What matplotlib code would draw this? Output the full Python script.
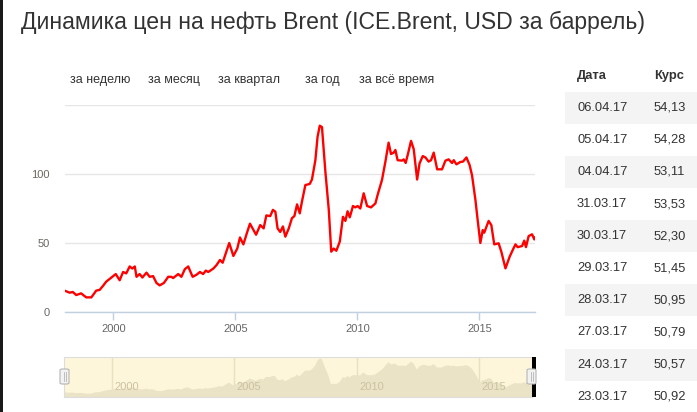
import matplotlib
matplotlib.use("Agg")
import matplotlib.pyplot as plt
from matplotlib.patches import Rectangle, FancyBboxPatch

# Brent price (decimal year, USD)
years = [1998.00, 1998.21, 1998.34, 1998.48, 1998.68, 1998.89, 1999.10, 1999.30, 1999.44, 1999.58,
         1999.71, 1999.92, 2000.10, 2000.26, 2000.40, 2000.53, 2000.67, 2000.78, 2000.88, 2000.95,
         2001.08, 2001.19, 2001.36, 2001.49, 2001.63, 2001.77, 2001.90, 2002.07, 2002.25, 2002.38,
         2002.45, 2002.66, 2002.79, 2002.93, 2003.07, 2003.25, 2003.41, 2003.55, 2003.68, 2003.79,
         2003.89, 2004.10, 2004.23, 2004.37, 2004.48, 2004.62, 2004.75, 2004.92, 2005.08, 2005.19,
         2005.33, 2005.47, 2005.60, 2005.85, 2006.02, 2006.16, 2006.27, 2006.43, 2006.54, 2006.64,
         2006.73, 2006.84, 2006.95, 2007.05, 2007.19, 2007.32, 2007.42, 2007.53, 2007.64, 2007.73,
         2007.87, 2008.05, 2008.14, 2008.28, 2008.37, 2008.46, 2008.55, 2008.69, 2008.83, 2008.93,
         2009.03, 2009.14, 2009.28, 2009.41, 2009.51, 2009.60, 2009.69, 2009.82, 2009.92, 2010.01,
         2010.12, 2010.26, 2010.40, 2010.56, 2010.74, 2010.83, 2011.01, 2011.15, 2011.28, 2011.38,
         2011.49, 2011.56, 2011.65, 2011.83, 2011.90, 2011.98, 2012.08, 2012.20, 2012.31, 2012.45,
         2012.55, 2012.68, 2012.79, 2012.92, 2013.02, 2013.13, 2013.27, 2013.47, 2013.61, 2013.74,
         2013.88, 2013.95, 2014.06, 2014.22, 2014.33, 2014.47, 2014.60, 2014.70, 2014.84, 2014.93,
         2015.04, 2015.14, 2015.20, 2015.38, 2015.49, 2015.61, 2015.79, 2015.90, 2016.07, 2016.24,
         2016.38, 2016.48, 2016.57, 2016.75, 2016.84, 2016.91, 2017.02, 2017.16, 2017.25, 2017.29]
prices = [15.5, 14.0, 14.5, 12.3, 13.5, 10.6, 10.6, 15.5, 16.0, 19.0,
          22.0, 25.0, 27.5, 23.0, 29.0, 28.0, 33.0, 31.5, 33.0, 25.5,
          27.5, 25.0, 28.5, 25.5, 26.0, 21.0, 19.3, 21.0, 25.5, 25.5,
          24.6, 27.5, 25.5, 31.0, 33.0, 25.5, 27.0, 29.0, 27.5, 30.0,
          29.0, 31.5, 34.0, 37.7, 35.7, 43.0, 50.0, 40.6, 46.0, 54.0,
          49.0, 57.0, 64.0, 56.0, 63.0, 60.6, 70.0, 69.5, 74.0, 72.7,
          60.6, 58.0, 62.0, 54.6, 60.6, 68.0, 69.5, 78.0, 71.5, 80.0,
          92.0, 92.8, 96.0, 110.0, 127.0, 135.0, 134.0, 101.7, 74.0, 43.7,
          46.0, 44.4, 51.0, 69.0, 66.0, 73.0, 68.6, 76.8, 75.8, 76.8,
          75.0, 86.0, 76.8, 75.8, 78.7, 84.8, 95.7, 109.0, 122.7, 114.5,
          115.5, 117.4, 110.0, 109.7, 110.6, 108.0, 115.0, 124.0, 118.0, 96.0,
          107.7, 113.0, 112.0, 109.0, 110.0, 115.5, 103.4, 103.4, 109.7, 110.6,
          108.0, 110.0, 107.0, 108.7, 109.0, 112.0, 106.5, 99.0, 81.0, 66.7,
          50.0, 59.4, 57.5, 66.0, 63.0, 49.0, 49.8, 43.7, 31.6, 40.0,
          45.4, 49.0, 47.0, 47.8, 51.7, 47.0, 55.0, 56.3, 52.6, 54.0]

year_ticks = [2000, 2005, 2010, 2015]
y_ticks = [0, 50, 100]

tabs = ["за неделю", "за месяц", "за квартал", "за год", "за всё время"]
tab_x = [70, 148, 218, 305, 359]

table_dates = ["06.04.17", "05.04.17", "04.04.17", "31.03.17", "30.03.17",
               "29.03.17", "28.03.17", "27.03.17", "24.03.17", "23.03.17"]
table_rates = ["54,13", "54,28", "53,11", "53,53", "52,30",
               "51,45", "50,95", "50,79", "50,57", "50,92"]

W, H = 697, 412
SANS = ["Liberation Sans", "DejaVu Sans"]


def box(x0, y0, x1, y1):
    return [x0 / W, 1 - y1 / H, (x1 - x0) / W, (y1 - y0) / H]


def fx(x):
    return x / W


def fy(y):
    return 1 - y / H


fig = plt.figure(figsize=(W / 100, H / 100), dpi=100)
fig.patch.set_facecolor("white")

# dark strip at the left edge
fig.patches.append(Rectangle((0, 0), 3 / W, 1, transform=fig.transFigure,
                             facecolor="#1a1a1a", edgecolor="none"))

# title: no narrow font installed, so size it to the reference width (21..647 px)
title = fig.text(fx(21), fy(22), "Динамика цен на нефть Brent (ICE.Brent, USD за баррель)",
                 fontsize=18.5, family=SANS, color="#333333", va="center", ha="left")
renderer = fig.canvas.get_renderer()
tw = title.get_window_extent(renderer).width
title.set_fontsize(18.5 * 626 / tw)

for t, x in zip(tabs, tab_x):
    fig.text(fx(x), fy(80), t, fontsize=9.0, family=SANS, color="#333333",
             va="center", ha="left")

# main chart
ax = fig.add_axes(box(65, 105, 535, 312))
ax.plot(years, prices, color="#ff0000", lw=1.7, solid_joinstyle="round", zorder=3)
ax.set_xlim(1998.02, 2017.28)
ax.set_ylim(0, 150)
ax.set_yticks(y_ticks + [150])
ax.set_yticklabels([str(v) for v in y_ticks] + [""])
ax.set_xticks(year_ticks)
ax.set_xticklabels([str(v) for v in year_ticks])
for s in ["top", "right", "left"]:
    ax.spines[s].set_visible(False)
ax.spines["bottom"].set_color("#c0d0e0")
ax.spines["bottom"].set_linewidth(1)
ax.grid(axis="y", color="#e6e6e6", lw=1)
ax.set_axisbelow(True)
ax.tick_params(axis="y", length=0, pad=11, labelsize=8, labelcolor="#6b6660")
ax.tick_params(axis="x", length=6, width=1, color="#c0d0e0", direction="out",
               pad=3, labelsize=8, labelcolor="#666666")
for lab in ax.get_xticklabels() + ax.get_yticklabels():
    lab.set_family(SANS)

# navigator
nav = fig.add_axes(box(64, 357, 532, 397))
nav.set_facecolor("#fdf6da")
nav.fill_between(years, prices, -3, color="#ebe3c6", lw=0)
nav.set_xlim(1998.02, 2017.18)
nav.set_ylim(-3, 139)
nav.set_yticks([])
nav.set_xticks(year_ticks)
nav.set_xticklabels([])
nav.grid(axis="x", color="#e9e0c0", lw=1)
nav.set_axisbelow(True)
nav.tick_params(axis="x", length=0)
for s in nav.spines.values():
    s.set_color("#dddddd")
for yr in year_ticks:
    nav.text(yr + 0.1, 0.25, str(yr), transform=nav.get_xaxis_transform(),
             fontsize=8, family=SANS, color="#cbc19f", ha="left", va="center", zorder=5)

fig.patches.append(Rectangle((fx(532), fy(397)), 4 / W, 40 / H, transform=fig.transFigure,
                             facecolor="black", edgecolor="none", zorder=5))
for hx in [60, 527]:
    fig.patches.append(FancyBboxPatch((fx(hx), fy(384)), 9 / W, 15 / H,
                                      boxstyle="round,pad=0,rounding_size=0.003",
                                      transform=fig.transFigure, facecolor="#f2f2f2",
                                      edgecolor="#b5b5b5", lw=0.8, zorder=6))
    for dx in [3.5, 5.5]:
        fig.lines.append(plt.Line2D([fx(hx + dx)] * 2, [fy(372), fy(381)],
                                    transform=fig.transFigure, color="#b5b5b5",
                                    lw=0.6, zorder=7))

# table on the right
fig.text(fx(577), fy(76), "Дата", fontsize=9.3, family=SANS, weight="bold",
         color="#333333", va="center")
fig.text(fx(654), fy(76), "Курс", fontsize=9.3, family=SANS, weight="bold",
         color="#333333", va="center")
row_h = 32.1
for i, (d, r) in enumerate(zip(table_dates, table_rates)):
    top = 91.7 + i * row_h
    if i % 2 == 0:
        fig.patches.append(Rectangle((fx(565), fy(top + row_h)), (W - 565) / W, row_h / H,
                                     transform=fig.transFigure, facecolor="#f4f4f4",
                                     edgecolor="none", zorder=0))
    fig.text(fx(577), fy(top + row_h / 2), d, fontsize=9.3, family=SANS,
             color="#333333", va="center")
    fig.text(fx(654), fy(top + row_h / 2), r, fontsize=9.3, family=SANS,
             color="#333333", va="center")

fig.savefig("out.png", dpi=100)
